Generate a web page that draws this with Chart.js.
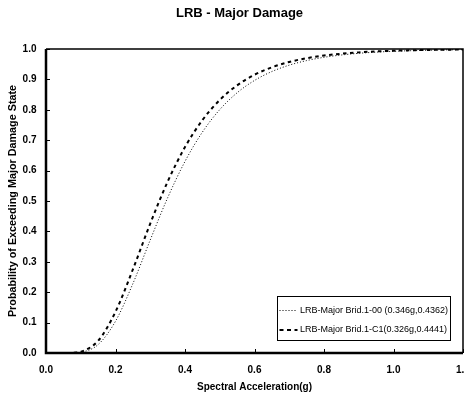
<!DOCTYPE html>
<html><head><meta charset="utf-8">
<script src="https://cdn.jsdelivr.net/npm/chart.js@4/dist/chart.umd.min.js"></script>
<style>html,body{margin:0;padding:0;background:#fff;}canvas{display:block;}</style>
</head><body>
<canvas id="c" width="464" height="396"></canvas>
<script>
const chartTitle = 'LRB - Major Damage';
const xAxisTitle = 'Spectral Acceleration(g)';
const yAxisTitle = 'Probability of Exceeding Major Damage State';
const seriesNames = ['LRB-Major Brid.1-00 (0.346g,0.4362)', 'LRB-Major Brid.1-C1(0.326g,0.4441)'];
const accel = [0.08, 0.10, 0.15, 0.20, 0.25, 0.30, 0.35, 0.40, 0.45, 0.50, 0.55, 0.60, 0.65, 0.70, 0.75, 0.80, 0.85, 0.90, 0.95, 1.00, 1.05, 1.10, 1.15, 1.20];
const probBrid100 = [0.0004, 0.0022, 0.0277, 0.1045, 0.2281, 0.3718, 0.5105, 0.6302, 0.7265, 0.8006, 0.8560, 0.8965, 0.9259, 0.9469, 0.9619, 0.9727, 0.9803, 0.9858, 0.9897, 0.9925, 0.9945, 0.9960, 0.9971, 0.9978];
const probBrid1C1 = [0.0008, 0.0039, 0.0402, 0.1356, 0.2750, 0.4258, 0.5635, 0.6774, 0.7660, 0.8322, 0.8805, 0.9152, 0.9399, 0.9574, 0.9697, 0.9784, 0.9845, 0.9889, 0.9920, 0.9942, 0.9958, 0.9969, 0.9977, 0.9983];
const xTickLabels = ['0.0', '0.2', '0.4', '0.6', '0.8', '1.0', '1.2'];
const yTickLabels = ['0.0', '0.1', '0.2', '0.3', '0.4', '0.5', '0.6', '0.7', '0.8', '0.9', '1.0'];

const FONT = "'Liberation Sans', Arial, Helvetica, sans-serif";

const framePlugin = {
  id: 'frame',
  afterDatasetsDraw(chart) {
    const {ctx, chartArea: a, scales} = chart;
    ctx.save();
    ctx.strokeStyle = '#000';
    ctx.lineWidth = 1;
    scales.x.ticks.forEach(t => {
      const px = Math.round(scales.x.getPixelForValue(t.value)) + 0.5;
      ctx.beginPath(); ctx.moveTo(px, a.bottom); ctx.lineTo(px, a.bottom - 4); ctx.stroke();
    });
    scales.y.ticks.forEach(t => {
      const py = Math.round(scales.y.getPixelForValue(t.value)) + 0.5;
      ctx.beginPath(); ctx.moveTo(a.left, py); ctx.lineTo(a.left + 4, py); ctx.stroke();
    });
    ctx.lineWidth = 1.5;
    ctx.beginPath();
    ctx.moveTo(a.left, a.top); ctx.lineTo(a.right, a.top); ctx.lineTo(a.right, a.bottom);
    ctx.stroke();
    ctx.lineWidth = 2.5;
    ctx.beginPath();
    ctx.moveTo(a.left, a.top); ctx.lineTo(a.left, a.bottom); ctx.lineTo(a.right, a.bottom);
    ctx.stroke();
    ctx.restore();
  }
};

const boxLegendPlugin = {
  id: 'boxLegend',
  afterDraw(chart) {
    const {ctx} = chart;
    const bx = 277.5, by = 296.5, bw = 173, bh = 44;
    ctx.save();
    ctx.fillStyle = '#fff';
    ctx.fillRect(bx, by, bw, bh);
    ctx.strokeStyle = '#000';
    ctx.lineWidth = 1;
    ctx.strokeRect(bx, by, bw, bh);
    ctx.font = '9px ' + FONT;
    ctx.fillStyle = '#000';
    ctx.textBaseline = 'middle';
    chart.data.datasets.forEach((ds, i) => {
      const y = by + 14 + i * 19.5;
      ctx.save();
      ctx.lineWidth = ds.borderWidth;
      ctx.setLineDash(i === 0 ? [1, 2] : [4, 3.5]);
      ctx.beginPath(); ctx.moveTo(bx + 2, y); ctx.lineTo(bx + 20, y); ctx.stroke();
      ctx.restore();
      ctx.fillText(ds.label, bx + 22.5, y);
    });
    ctx.restore();
  }
};

new Chart(document.getElementById('c'), {
  type: 'line',
  data: {
    datasets: [
      {
        label: seriesNames[0],
        data: accel.map((x, i) => ({x, y: probBrid100[i]})),
        borderColor: '#000', borderWidth: 1, borderDash: [1, 2],
        pointRadius: 0, fill: false, cubicInterpolationMode: 'monotone'
      },
      {
        label: seriesNames[1],
        data: accel.map((x, i) => ({x, y: probBrid1C1[i]})),
        borderColor: '#000', borderWidth: 2, borderDash: [3.5, 3.5],
        pointRadius: 0, fill: false, cubicInterpolationMode: 'monotone'
      }
    ]
  },
  options: {
    responsive: false,
    animation: false,
    devicePixelRatio: 1,
    layout: {padding: {left: 16, right: 1, top: 0, bottom: 0}},
    plugins: {
      legend: {display: false},
      tooltip: {enabled: false},
      title: {
        display: true, text: chartTitle, color: '#000',
        font: {family: FONT, size: 13, weight: 'bold', lineHeight: 1.2},
        padding: {top: 5.6, bottom: 27.8}
      }
    },
    scales: {
      x: {
        type: 'linear', min: 0, max: 1.2,
        afterBuildTicks(s) { s.ticks = xTickLabels.map(v => ({value: parseFloat(v)})); },
        ticks: {
          callback: (v, i) => xTickLabels[i],
          color: '#000', padding: 11, maxRotation: 0, autoSkip: false,
          font: {family: FONT, size: 10, weight: 'bold'}
        },
        grid: {display: false, drawTicks: false},
        border: {display: false},
        title: {
          display: true, text: xAxisTitle, color: '#000',
          font: {family: FONT, size: 10, weight: 'bold', lineHeight: 1.2},
          padding: {top: 0, bottom: 3}
        },
        afterFit(s) { s.height = 43; s.paddingLeft = 0; s.paddingRight = 0; }
      },
      y: {
        type: 'linear', min: 0, max: 1,
        afterBuildTicks(s) { s.ticks = yTickLabels.map(v => ({value: parseFloat(v)})); },
        ticks: {
          callback: (v, i) => yTickLabels[i],
          color: '#000', padding: 9.5, autoSkip: false,
          font: {family: FONT, size: 10, weight: 'bold'}
        },
        grid: {display: false, drawTicks: false},
        border: {display: false},
        title: {
          display: true, text: yAxisTitle, color: '#000',
          font: {family: FONT, size: 10.8, weight: 'bold', lineHeight: 1.2},
          padding: {top: -9, bottom: 0}
        },
        afterFit(s) { s.width = 30; s.paddingTop = 0; s.paddingBottom = 0; }
      }
    }
  },
  plugins: [framePlugin, boxLegendPlugin]
});
</script>
</body></html>
